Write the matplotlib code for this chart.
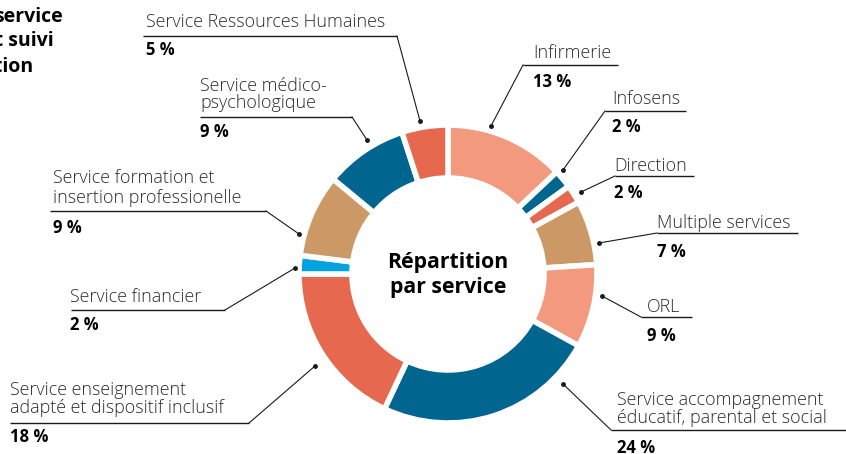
import matplotlib
matplotlib.use("Agg")
import matplotlib.pyplot as plt

# ---- data ----
services = [
    "Infirmerie",
    "Infosens",
    "Direction",
    "Multiple services",
    "ORL",
    "Service accompagnement\néducatif, parental et social",
    "Service enseignement\nadapté et dispositif inclusif",
    "Service financier",
    "Service formation et\ninsertion professionelle",
    "Service médico-\npsychologique",
    "Service Ressources Humaines",
]
values = [13, 2, 2, 7, 9, 24, 18, 2, 9, 9, 5]
pct_labels = [f"{v} %" for v in values]
center_title = "Répartition\npar service"
corner_title = ["service", "et suivi", "ation"]

# ---- style ----
SALMON = "#F39A7E"
BLUE = "#00658F"
RED = "#E5684F"
TAN = "#CC9966"
LBLUE = "#00A3E0"
colors = [SALMON, BLUE, RED, TAN, SALMON, BLUE, RED, LBLUE, TAN, BLUE, RED]

W, H = 846, 454
CX, CY, R, WIDTH = 448, 274, 149, 53

layout = [
    dict(x=533, lines=[58], uy=65, ux=(523, 618), elbow=(523, 65), tgt=(491, 126), py=87),
    dict(x=612, lines=[104], uy=111, ux=(605, 686), elbow=(605, 111), tgt=(563, 170), py=132),
    dict(x=614, lines=[171], uy=176, ux=(615, 694), elbow=(615, 176), tgt=(581, 192), py=198),
    dict(x=657, lines=[228], uy=233, ux=(657, 798), elbow=(657, 233), tgt=(599, 243), py=257),
    dict(x=647, lines=[312], uy=317, ux=(641, 692), elbow=(641, 317), tgt=(602, 296), py=341),
    dict(x=617, lines=[405, 423], uy=430, ux=(611, 846), elbow=(611, 430), tgt=(563, 384), py=453),
    dict(x=10, lines=[395, 413], uy=423, ux=(10, 249), elbow=(249, 423), tgt=(315, 366), py=442),
    dict(x=70, lines=[302], uy=310, ux=(71, 225), elbow=(225, 310), tgt=(295, 268), py=330),
    dict(x=53, lines=[183, 203], uy=211, ux=(50, 266), elbow=(266, 211), tgt=(299, 234), py=233),
    dict(x=200, lines=[91, 108], uy=117, ux=(200, 352), elbow=(352, 117), tgt=(367, 140), py=137),
    dict(x=146, lines=[27], uy=36, ux=(143, 397), elbow=(397, 36), tgt=(420, 121), py=55),
]

plt.rcParams['font.family'] = ['Open Sans', 'DejaVu Sans']

fig = plt.figure(figsize=(W / 100, H / 100), dpi=100)
ax = fig.add_axes([0, 0, 1, 1])

ax.pie(values, colors=colors, radius=R, center=(CX, CY),
       startangle=-90, counterclock=True,
       wedgeprops=dict(width=WIDTH, edgecolor="white", linewidth=4))

ax.set_xlim(0, W)
ax.set_ylim(H, 0)
ax.set_aspect("equal")
ax.axis("off")

LINE_C = "#1a1a1a"
for name, pct, lay in zip(services, pct_labels, layout):
    for line, yb in zip(name.split("\n"), lay["lines"]):
        ax.text(lay["x"], yb, line, fontsize=12.9, fontweight="light",
                color="#2b2b2b", va="baseline", ha="left")
    ax.text(lay["x"], lay["py"], pct, fontsize=12, fontweight="bold",
            color="black", va="baseline", ha="left")
    ax.plot(lay["ux"], [lay["uy"], lay["uy"]], color=LINE_C, lw=1.0,
            solid_capstyle="butt")
    ax.plot([lay["elbow"][0], lay["tgt"][0]], [lay["elbow"][1], lay["tgt"][1]],
            color=LINE_C, lw=0.8)
    ax.plot([lay["tgt"][0]], [lay["tgt"][1]], "o", color=LINE_C, ms=2.5)

ax.text(CX, 268, center_title.split("\n")[0], fontsize=15.3, fontweight="bold",
        ha="center", va="baseline", color="black")
ax.text(CX, 293, center_title.split("\n")[1], fontsize=15.3, fontweight="bold",
        ha="center", va="baseline", color="black")

for t, (xr, yb) in zip(corner_title, [(63, 22), (54, 46), (33, 72)]):
    ax.text(xr, yb, t, fontsize=14, fontweight="bold", ha="right",
            va="baseline", color="black")

fig.savefig("out.png", dpi=100)
